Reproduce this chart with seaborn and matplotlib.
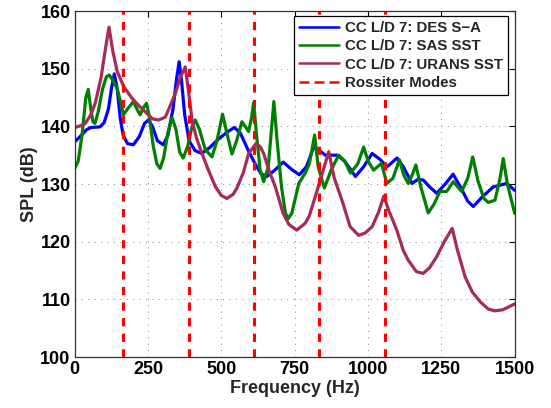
import numpy as np
import pandas as pd
import matplotlib
matplotlib.use("Agg")
import matplotlib.pyplot as plt
import seaborn as sns
from matplotlib.lines import Line2D

# ---------------- data ----------------
des_freq = [0, 20, 40, 55, 86, 100, 115, 125, 135, 145, 155, 165, 180, 200, 220, 238, 251, 265,
            282, 302, 318, 335, 348, 356, 364, 375, 390, 410, 433, 460, 490, 520, 544, 565, 590,
            615, 635, 654, 680, 711, 740, 766, 790, 815, 835, 854, 894, 920, 957, 985, 1014, 1040,
            1065, 1099, 1120, 1150, 1170, 1188, 1210, 1234, 1260, 1290, 1315, 1340, 1359, 1390,
            1427, 1473, 1500]
des_spl = [137.3, 138.3, 139.4, 139.8, 139.9, 140.6, 143.0, 146.5, 149.1, 146.5, 141.5, 138.5,
           137.0, 136.8, 138.2, 140.5, 141.1, 140.0, 137.5, 136.8, 138.5, 143.0, 148.5, 151.2,
           148.0, 142.0, 137.5, 135.8, 135.3, 136.3, 137.8, 139.0, 139.8, 138.8, 136.0, 133.5,
           131.8, 131.3, 132.3, 133.8, 132.5, 131.6, 133.0, 136.4, 135.8, 135.0, 135.0, 134.0,
           131.3, 133.0, 135.3, 134.3, 133.0, 134.5, 133.0, 130.1, 130.8, 130.7, 129.5, 128.4,
           129.8, 131.7, 129.5, 127.0, 126.1, 127.8, 129.5, 130.1, 128.9]

sas_freq = [0, 12, 25, 38, 46, 55, 62, 69, 80, 95, 108, 118, 130, 145, 155, 166, 180, 200, 212,
            223, 235, 245, 255, 268, 280, 291, 303, 318, 332, 345, 358, 370, 385, 400, 411, 425,
            445, 468, 485, 504, 518, 536, 552, 570, 593, 603, 610, 620, 632, 644, 660, 670, 679,
            690, 705, 718, 728, 740, 764, 786, 800, 818, 830, 851, 875, 900, 920, 940, 965, 985,
            1000, 1019, 1046, 1064, 1085, 1107, 1122, 1137, 1150, 1163, 1180, 1205, 1225, 1245,
            1268, 1291, 1319, 1340, 1357, 1375, 1395, 1410, 1433, 1450, 1461, 1475, 1500]
sas_spl = [132.7, 134.0, 138.5, 145.0, 146.4, 143.0, 140.8, 140.5, 142.5, 146.5, 148.6, 148.9,
           148.0, 146.5, 144.5, 142.0, 143.0, 144.3, 143.0, 142.0, 143.3, 144.0, 141.5, 136.5,
           133.5, 132.7, 134.5, 139.0, 141.5, 139.5, 135.5, 134.5, 136.5, 140.0, 141.1, 139.5,
           136.0, 134.7, 137.5, 142.1, 139.0, 135.2, 137.5, 140.8, 139.1, 141.5, 144.1, 138.5,
           132.5, 130.4, 133.0, 139.0, 144.3, 137.5, 129.5, 125.0, 124.0, 124.9, 130.1, 131.9,
           133.5, 138.5, 133.0, 129.3, 132.5, 135.0, 134.0, 131.9, 133.5, 136.4, 134.0, 132.4,
           133.6, 130.1, 131.0, 134.2, 131.5, 130.1, 131.5, 133.3, 129.5, 125.0, 126.5, 128.7,
           128.7, 130.4, 128.7, 131.0, 134.7, 130.5, 127.5, 126.8, 127.2, 131.0, 134.4, 130.0,
           124.9]

urans_freq = [0, 20, 36, 55, 70, 90, 105, 117, 130, 145, 167, 195, 220, 241, 265, 286, 309, 325,
              343, 360, 377, 387, 400, 415, 434, 455, 480, 500, 519, 540, 553, 575, 593, 618, 632,
              644, 665, 684, 710, 730, 757, 786, 800, 820, 845, 866, 885, 911, 939, 968, 990, 1014,
              1035, 1054, 1070, 1098, 1120, 1137, 1165, 1188, 1210, 1234, 1260, 1287, 1305, 1331,
              1355, 1382, 1410, 1433, 1460, 1500]
urans_spl = [139.8, 140.1, 140.5, 142.0, 144.0, 148.5, 153.5, 157.2, 153.0, 149.5, 146.9, 144.9,
             143.5, 142.5, 141.3, 141.1, 141.6, 143.5, 145.7, 148.5, 150.3, 146.5, 141.1, 138.0,
             135.3, 132.5, 129.5, 128.0, 127.5, 128.2, 129.3, 132.0, 135.3, 137.0, 136.5, 135.3,
             132.0, 129.5, 125.0, 123.0, 122.0, 123.2, 124.5, 127.8, 132.0, 135.6, 131.0, 127.2,
             122.6, 121.1, 121.5, 122.6, 125.0, 127.9, 125.5, 122.0, 118.5, 116.8, 114.8, 114.5,
             115.5, 117.4, 120.0, 122.3, 118.5, 113.9, 111.3, 109.6, 108.3, 108.0, 108.2, 109.2]

rossiter_modes = [166, 390, 612, 834, 1057]

series_names = ["CC L/D 7: DES S\u2212A", "CC L/D 7: SAS SST", "CC L/D 7: URANS SST"]
rossiter_label = "Rossiter Modes"
x_ticks = [0, 250, 500, 750, 1000, 1250, 1500]
y_ticks = [100, 110, 120, 130, 140, 150, 160]

# ---------------- figure ----------------
sns.set_style("white")
plt.rcParams["font.family"] = ["Liberation Sans", "DejaVu Sans"]
plt.rcParams["font.weight"] = "bold"
plt.rcParams["lines.solid_joinstyle"] = "round"
plt.rcParams["lines.solid_capstyle"] = "round"

colors = ["#0000FF", "#008000", "#A62A5A"]

frames = []
for name, f, s in zip(series_names, [des_freq, sas_freq, urans_freq],
                      [des_spl, sas_spl, urans_spl]):
    frames.append(pd.DataFrame({"freq": f, "spl": s, "series": name}))
df = pd.concat(frames, ignore_index=True)

fig = plt.figure(figsize=(5.51, 4.08), dpi=100)
ax = fig.add_axes([74.7 / 551, 1 - 357 / 408, 440 / 551, 346 / 408])

sns.lineplot(data=df, x="freq", y="spl", hue="series", palette=colors,
             hue_order=series_names, sort=False, estimator=None,
             linewidth=2.3, ax=ax, legend=False)

for m in rossiter_modes:
    ax.axvline(m, color="#FF0000", linestyle=(0, (2.7, 2.4)), linewidth=2.2)

ax.set_xlim(0, 1500)
ax.set_ylim(100, 160)
ax.set_xticks(x_ticks)
ax.set_yticks(y_ticks)
ax.set_xticklabels([str(t) for t in x_ticks], fontsize=13, fontweight="bold")
ax.set_yticklabels([str(t) for t in y_ticks], fontsize=13, fontweight="bold")
ax.set_xlabel("Frequency (Hz)", fontsize=13, fontweight="bold", labelpad=1)
ax.set_ylabel("SPL (dB)", fontsize=13, fontweight="bold", labelpad=2)

ax.grid(True, linestyle=(0, (1.2, 6.5)), color="#777777", linewidth=0.6)
ax.tick_params(direction="in", top=True, right=True, length=4, width=0.8,
               pad=3, colors="black")
for sp in ax.spines.values():
    sp.set_visible(True)
    sp.set_color("#333333")
    sp.set_linewidth(0.9)

handles = [Line2D([0], [0], color=c, linewidth=1.8) for c in colors]
handles.append(Line2D([0], [0], color="#FF0000", linestyle=(0, (4.0, 2.0)), linewidth=1.8))
leg = ax.legend(handles, series_names + [rossiter_label], loc="upper right",
                bbox_to_anchor=((508 - 74.7) / 440, (357 - 16) / 346),
                borderaxespad=0, fancybox=False, framealpha=1, edgecolor="black",
                handlelength=2.7, handletextpad=0.35, labelspacing=0.28, borderpad=0.35,
                prop={"size": 10.8, "weight": "bold"})
leg.get_frame().set_linewidth(0.9)

fig.savefig("out.png", dpi=100)
